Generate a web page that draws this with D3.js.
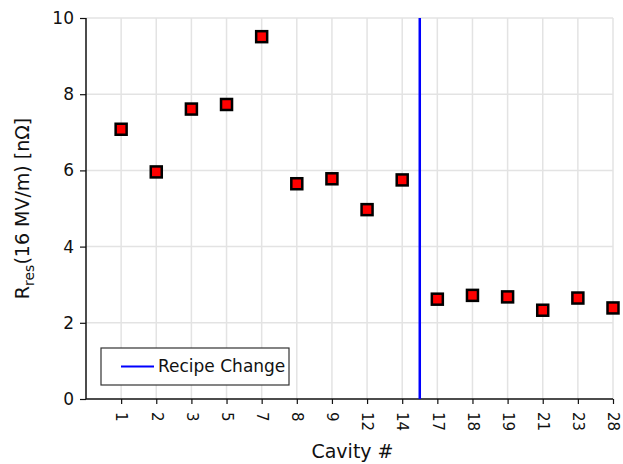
<!DOCTYPE html>
<html>
<head>
<meta charset="utf-8">
<script src="https://cdn.jsdelivr.net/npm/d3@7/dist/d3.min.js"></script>
<style>
  html, body { margin: 0; padding: 0; background: #fff; }
  svg { display: block; }
  text { font-family: "DejaVu Sans", sans-serif; fill: #111; }
</style>
</head>
<body>
<svg id="chart" width="623" height="464"></svg>
<script>
// Cavity numbers and residual resistance at 16 MV/m (nΩ)
const cavities = ["1", "2", "3", "5", "7", "8", "9", "12", "14", "17", "18", "19", "21", "23", "28"];
const rres = [7.08, 5.96, 7.61, 7.73, 9.51, 5.65, 5.78, 4.97, 5.75, 2.62, 2.72, 2.68, 2.33, 2.65, 2.39];
const yTicks = [0, 2, 4, 6, 8, 10];
// recipe change happens between these two cavities
const changeBetween = ["14", "17"];

(function draw() {
  const svg = d3.select("#chart");
  const mLeft = 86, mRight = 613, mTop = 18, mBottom = 399;
  const step = (mRight - mLeft) / cavities.length;

  const x = d3.scalePoint().domain(cavities).range([mLeft + step, mRight]);
  const y = d3.scaleLinear().domain([0, 10]).range([mBottom, mTop]);

  // grid
  const grid = svg.append("g").attr("stroke", "#e3e3e3").attr("stroke-width", 1.5);
  grid.selectAll("line.h").data(yTicks.filter(d => d > 0)).join("line")
    .attr("class", "h")
    .attr("x1", mLeft).attr("x2", mRight)
    .attr("y1", d => y(d)).attr("y2", d => y(d));
  grid.selectAll("line.v").data(cavities).join("line")
    .attr("class", "v")
    .attr("x1", d => x(d)).attr("x2", d => x(d))
    .attr("y1", mTop).attr("y2", mBottom);

  // axes
  const yAxis = svg.append("g").attr("transform", `translate(${mLeft},0)`)
    .call(d3.axisLeft(y).tickValues(yTicks).tickSize(6).tickPadding(6).tickFormat(d3.format("d")));
  yAxis.select(".domain").attr("stroke", "#111").attr("stroke-width", 1.5).attr("d", `M0,${mBottom}V${mTop}`);
  yAxis.selectAll(".tick line").attr("stroke", "#111").attr("stroke-width", 1.2);
  yAxis.selectAll("text").style("font-size", "17px").attr("fill", "#111");

  const xAxis = svg.append("g").attr("transform", `translate(0,${mBottom})`)
    .call(d3.axisBottom(x).tickSize(5).tickSizeOuter(0));
  xAxis.select(".domain").attr("stroke", "#111").attr("stroke-width", 1.5).attr("d", `M${mLeft},0H${mRight}`);
  xAxis.selectAll(".tick line").attr("stroke", "#111").attr("stroke-width", 1.2);
  xAxis.selectAll("text")
    .style("font-size", "15px").attr("fill", "#111")
    .attr("transform", "rotate(90)")
    .attr("x", 13).attr("y", 0).attr("dy", "0.35em")
    .attr("text-anchor", "start");

  // recipe change marker
  const xChange = (x(changeBetween[0]) + x(changeBetween[1])) / 2;
  svg.append("line")
    .attr("x1", xChange).attr("x2", xChange)
    .attr("y1", mTop).attr("y2", mBottom)
    .attr("stroke", "#0000ff").attr("stroke-width", 2.5);

  // data points
  const s = 11;
  svg.append("g").selectAll("rect").data(cavities).join("rect")
    .attr("x", d => x(d) - s / 2)
    .attr("y", (d, i) => y(rres[i]) - s / 2)
    .attr("width", s).attr("height", s)
    .attr("fill", "#ff0000").attr("stroke", "#000").attr("stroke-width", 2.5);

  // axis titles
  svg.append("text")
    .attr("x", (mLeft + mRight) / 2 + 3).attr("y", 458)
    .attr("text-anchor", "middle").style("font-size", "19px")
    .text("Cavity #");

  const yt = svg.append("text")
    .attr("transform", `translate(29,${(mTop + mBottom) / 2}) rotate(-90)`)
    .attr("text-anchor", "middle").style("font-size", "19px");
  yt.append("tspan").text("R");
  yt.append("tspan").attr("dy", 5).style("font-size", "14px").text("res");
  yt.append("tspan").attr("dy", -5).text("(16 MV/m) [nΩ]");

  // legend
  const lg = svg.append("g");
  lg.append("rect").attr("x", 101).attr("y", 348).attr("width", 188).attr("height", 37)
    .attr("fill", "#fff").attr("stroke", "#333").attr("stroke-width", 1.2);
  lg.append("line").attr("x1", 121).attr("x2", 154).attr("y1", 366.5).attr("y2", 366.5)
    .attr("stroke", "#0000ff").attr("stroke-width", 2.2);
  lg.append("text").attr("x", 158).attr("y", 366.5).attr("dy", "0.35em")
    .style("font-size", "17px").text("Recipe Change");
})();
</script>
</body>
</html>
